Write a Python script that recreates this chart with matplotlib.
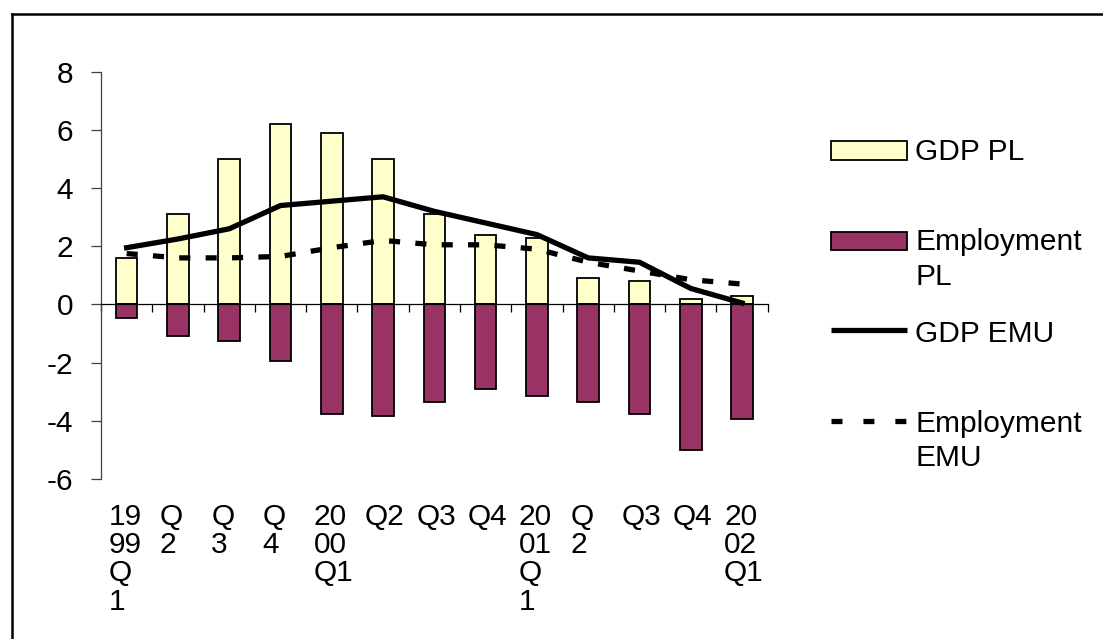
import numpy as np
import matplotlib
matplotlib.use("Agg")
import matplotlib.pyplot as plt
from matplotlib.patches import Rectangle

plt.rcParams["font.family"] = ["Liberation Sans", "DejaVu Sans"]
plt.rcParams["axes.unicode_minus"] = False

# Quarterly growth rates (%)
quarters = ["1999Q1", "1999Q2", "1999Q3", "1999Q4",
            "2000Q1", "2000Q2", "2000Q3", "2000Q4",
            "2001Q1", "2001Q2", "2001Q3", "2001Q4", "2002Q1"]
tick_labels = ["19\n99\nQ\n1", "Q\n2", "Q\n3", "Q\n4",
               "20\n00\nQ1", "Q2", "Q3", "Q4",
               "20\n01\nQ\n1", "Q\n2", "Q3", "Q4", "20\n02\nQ1"]
gdp_pl = [1.6, 3.1, 5.0, 6.2, 5.9, 5.0, 3.1, 2.4, 2.3, 0.9, 0.8, 0.2, 0.3]
emp_pl = [-0.45, -1.1, -1.25, -1.95, -3.75, -3.85, -3.35, -2.9, -3.15,
          -3.35, -3.75, -5.0, -3.95]
gdp_emu = [1.95, 2.25, 2.6, 3.4, 3.55, 3.7, 3.2, 2.8, 2.4, 1.6, 1.45, 0.55, 0.05]
emp_emu = [1.75, 1.6, 1.6, 1.65, 1.95, 2.2, 2.05, 2.05, 1.9, 1.45, 1.15, 0.85, 0.7]
series_names = ["GDP PL", "Employment\nPL", "GDP EMU", "Employment\nEMU"]

YELLOW = "#FFFFCC"
PLUM = "#993366"
FS = 21.5

W, H = 1103, 639
fig = plt.figure(figsize=(W / 100, H / 100), dpi=100)
ax = fig.add_axes([101 / W, 1 - 479 / H, 666.7 / W, 407.3 / H])

x = np.arange(len(quarters))
ax.bar(x, gdp_pl, width=0.42, color=YELLOW, edgecolor="black", linewidth=1.3, zorder=2)
ax.bar(x, emp_pl, width=0.42, color=PLUM, edgecolor="black", linewidth=1.3, zorder=2)
ax.plot(x, gdp_emu, color="black", lw=3.8, solid_joinstyle="round", zorder=4)
ax.plot(x, emp_emu, color="black", lw=3.8, linestyle=(0, (2.1, 2.9)),
        dash_capstyle="butt", zorder=4)

ax.set_xlim(-0.5, len(quarters) - 0.5)
ax.set_ylim(-6, 8)
ax.set_yticks(range(-6, 9, 2))
ax.spines[["top", "right"]].set_visible(False)
ax.spines["bottom"].set_position(("data", 0))
ax.spines["bottom"].set_zorder(3)
ax.spines["left"].set_linewidth(0.9)
ax.spines["left"].set_color("#404040")
ax.spines["bottom"].set_linewidth(0.9)
ax.set_xticks(np.arange(-0.5, len(quarters), 1))
ax.set_xticklabels([])
ax.tick_params(axis="x", direction="out", length=5.5, width=0.9)
ax.tick_params(axis="y", direction="out", length=7.2, width=0.9, pad=13.0,
               labelsize=FS, color="#404040")

# category labels below the plot area
for i, lab in enumerate(tick_labels):
    ax.annotate(lab, xy=(i - 0.35, 0), xycoords=("data", "axes fraction"),
                xytext=(0, -17), textcoords="offset points",
                ha="left", va="top", fontsize=FS, linespacing=1.02)

# overlay in pixel units for the frame and the legend
ov = fig.add_axes([0, 0, 1, 1], facecolor="none")
ov.set_xlim(0, W)
ov.set_ylim(H, 0)
ov.axis("off")
ov.plot([12, 12], [14, H + 10], color="black", lw=1.8)
ov.plot([12, W + 10], [14, 14], color="black", lw=1.8)

baselines = [159.5, 250, 341.5, 431.5]
kx0, kx1, tx = 831, 907, 915
ov.add_patch(Rectangle((kx0, baselines[0] - 18.3), kx1 - kx0, 18.3,
                       facecolor=YELLOW, edgecolor="black", lw=1.3))
ov.add_patch(Rectangle((kx0, baselines[1] - 18.3), kx1 - kx0, 18.3,
                       facecolor=PLUM, edgecolor="black", lw=1.3))
ov.plot([kx0, kx1], [baselines[2] - 11.5] * 2, color="black", lw=3.8,
        solid_capstyle="butt")
ov.plot([kx0, kx1], [baselines[3] - 10.5] * 2, color="black", lw=3.8,
        linestyle=(0, (2.08, 3.97)), dash_capstyle="butt")
line_pitch = 35
for b, name in zip(baselines, series_names):
    for k, part in enumerate(name.split("\n")):
        ov.text(tx, b + k * line_pitch, part, ha="left", va="baseline", fontsize=FS)

fig.savefig("out.png", dpi=100)
